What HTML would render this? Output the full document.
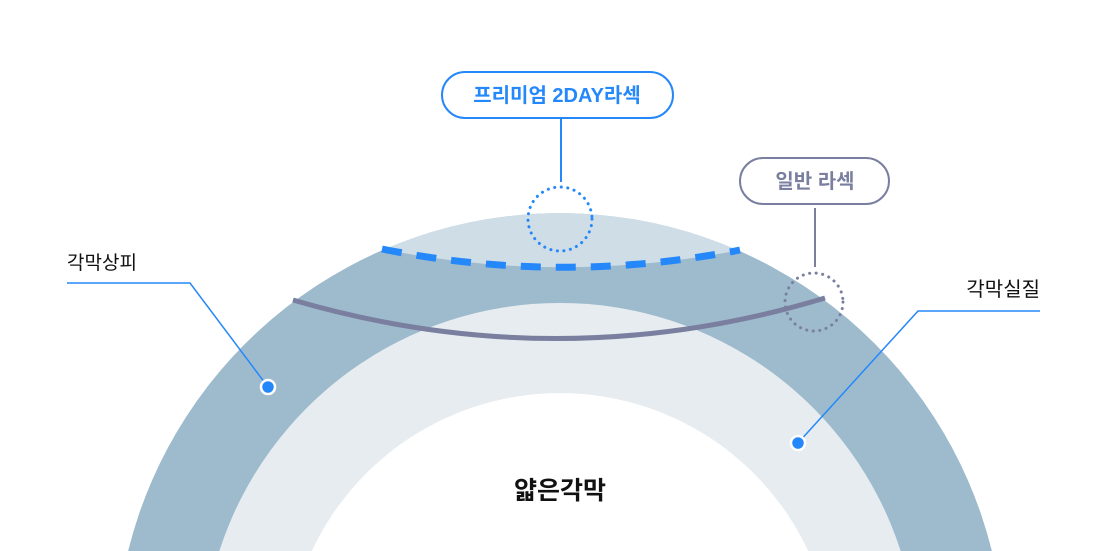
<!DOCTYPE html>
<html><head><meta charset="utf-8"><style>
html,body{margin:0;padding:0;background:#fff;width:1120px;height:551px;overflow:hidden;}
svg{display:block;}
text{font-family:"Liberation Sans","Noto Sans CJK KR",sans-serif;}
</style></head><body>
<svg width="1120" height="551" viewBox="0 0 1120 551" xmlns="http://www.w3.org/2000/svg">
<defs>
<clipPath id="outer"><path d="M128.1,551 A445,445 0 0 1 991.9,551 Z"/></clipPath>
</defs>
<path d="M128.1,551 A445,445 0 0 1 991.9,551 Z" fill="#9dbbcd"/>
<g clip-path="url(#outer)">
<path d="M100,200 L1020,200 L1020,230 L740,250 Q560,285 382,249 L100,230 Z" fill="#cfdde6"/>
</g>
<path d="M219.3,551 A358,358 0 0 1 900.7,551 Z" fill="#e6ecef"/>
<path d="M311.8,551 A274,274 0 0 1 808.2,551 Z" fill="#ffffff"/>
<path d="M382,249 Q560,285 740,250" fill="none" stroke="#2588fa" stroke-width="7" stroke-dasharray="20,15"/>
<path d="M293,300 Q560,378 825,298" fill="none" stroke="#7a7f9f" stroke-width="5"/>
<circle cx="560" cy="219" r="32" fill="none" stroke="#2588fa" stroke-width="3" stroke-dasharray="0.1,6.5" stroke-linecap="round"/>
<circle cx="814" cy="302" r="29" fill="none" stroke="#7a7f9f" stroke-width="3" stroke-dasharray="0.1,6.5" stroke-linecap="round"/>
<line x1="561" y1="118" x2="561" y2="182" stroke="#2588fa" stroke-width="2"/>
<line x1="815" y1="208" x2="815" y2="267" stroke="#7a7f9f" stroke-width="2"/>
<rect x="442" y="72" width="231" height="46" rx="23" fill="#fff" stroke="#2588fa" stroke-width="2"/>
<text x="557" y="102" text-anchor="middle" font-size="20" font-weight="bold" fill="#2588fa">프리미엄 2DAY라섹</text>
<rect x="740" y="158" width="149" height="46" rx="23" fill="#fff" stroke="#7a7f9f" stroke-width="2"/>
<text x="815" y="188" text-anchor="middle" font-size="20" font-weight="bold" fill="#7a7f9f">일반 라섹</text>
<text x="67" y="269" font-size="19" fill="#111">각막상피</text>
<polyline points="67,283 190,283 268,387" fill="none" stroke="#2588fa" stroke-width="1.5"/>
<circle cx="268" cy="387" r="7" fill="#2588fa" stroke="#fff" stroke-width="2.5"/>
<text x="1040" y="296" text-anchor="end" font-size="20" fill="#111">각막실질</text>
<polyline points="1040,311 918,311 798,443" fill="none" stroke="#2588fa" stroke-width="1.5"/>
<circle cx="798" cy="443" r="7" fill="#2588fa" stroke="#fff" stroke-width="2.5"/>
<text x="560" y="499" text-anchor="middle" font-size="25" font-weight="bold" fill="#111">얇은각막</text>
</svg>
</body></html>
